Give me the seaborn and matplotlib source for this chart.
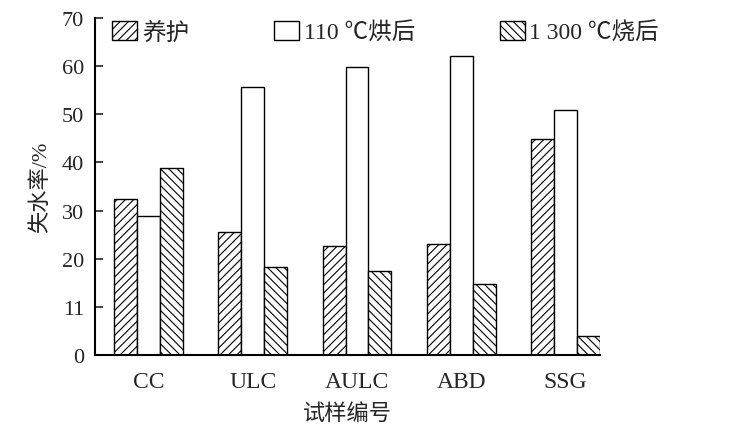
import pandas as pd
import matplotlib
matplotlib.use('Agg')
import matplotlib.pyplot as plt
import seaborn as sns

samples = ['CC', 'ULC', 'AULC', 'ABD', 'SSG']
conditions = ['养护', '110 ℃烘后', '1 300 ℃烧后']
cured = [32.5, 25.6, 22.6, 23.0, 44.8]
dried_110 = [28.8, 55.6, 59.8, 62.2, 51.0]
fired_1300 = [38.8, 18.3, 17.4, 14.8, 3.9]
y_ticks = [0, 10, 20, 30, 40, 50, 60, 70]
y_ticklabels = ['0', '11', '20', '30', '40', '50', '60', '70']

rows = []
for cond, vals in zip(conditions, [cured, dried_110, fired_1300]):
    for s, v in zip(samples, vals):
        rows.append({'sample': s, 'cond': cond, 'loss': v})
df = pd.DataFrame(rows)

sns.set_theme(style='white')
fonts = ['Liberation Serif', 'Noto Sans CJK SC', 'DejaVu Sans']
plt.rcParams['font.family'] = fonts
plt.rcParams['hatch.linewidth'] = 0.8

fig = plt.figure(figsize=(7.5, 4.35), dpi=100)
ax = fig.add_axes([0.127, 0.182, 0.673, 0.774])

sns.barplot(data=df, x='sample', y='loss', hue='cond', order=samples,
            hue_order=conditions, width=0.66, palette=['white'] * 3,
            edgecolor='black', linewidth=1.0, saturation=1, legend=False, ax=ax)

hatches = ['////', '', '\\\\\\\\']
for cont, h in zip(ax.containers, hatches):
    for bar in cont:
        bar.set_hatch(h)
        bar.set_facecolor('white')
        bar.set_edgecolor('black')

ax.set_xlim(-0.51, 4.33)
ax.set_ylim(0, 70)
ax.set_yticks(y_ticks)
ax.set_yticklabels(y_ticklabels)
ax.tick_params(axis='y', direction='in', length=6, width=1.2, labelsize=16, pad=8, left=True)
ax.tick_params(axis='x', length=0, labelsize=17, pad=12)
for side in ['top', 'right']:
    ax.spines[side].set_visible(False)
for side in ['left', 'bottom']:
    ax.spines[side].set_linewidth(1.5)
    ax.spines[side].set_color('black')

ax.set_xlabel('试样编号', fontsize=16, labelpad=8)
ax.set_ylabel('失水率/%', fontsize=16, labelpad=8)

ax.legend(ax.containers, conditions, ncol=3, frameon=False, fontsize=17,
          loc='upper left', bbox_to_anchor=(0.015, 1.02), handlelength=1.05,
          handleheight=0.85, handletextpad=0.2, columnspacing=3.6, borderaxespad=0)

fig.savefig('out.png', dpi=100)
